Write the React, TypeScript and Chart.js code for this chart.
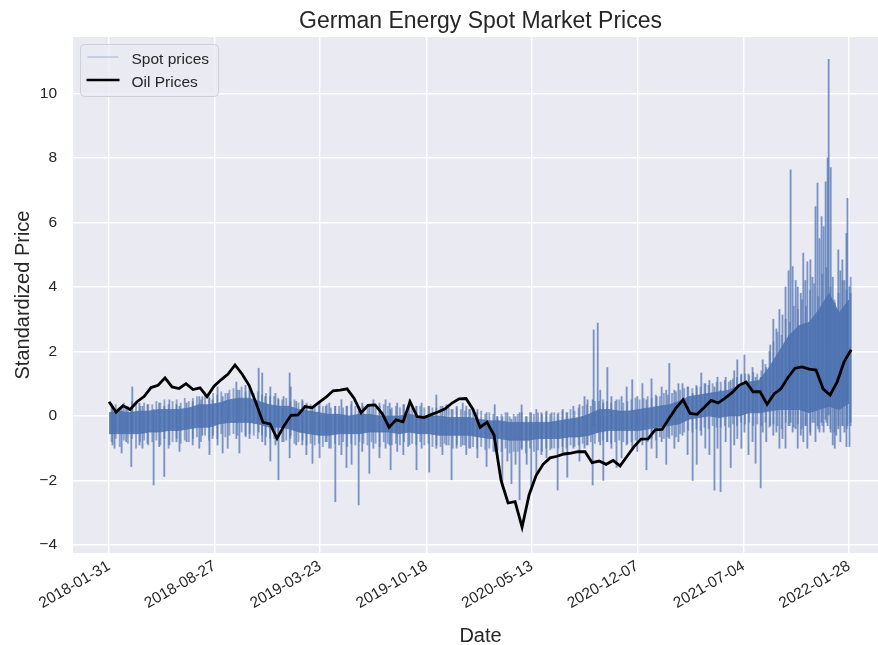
import { useEffect, useRef } from "react";
import Chart from "chart.js/auto";

// ---------- data ----------
const START_DATE = "2018-01-31";
const tickLabels = [
  "2018-01-31",
  "2018-08-27",
  "2019-03-23",
  "2019-10-18",
  "2020-05-13",
  "2020-12-07",
  "2021-07-04",
  "2022-01-28",
];
const yTicks = [-4, -2, 0, 2, 4, 6, 8, 10];

// visible axis window (days from START_DATE / standardized units)
const X_MIN_DAY = -71;
const X_MAX_DAY = 1515;
const Y_MIN = -4.25;
const Y_MAX = 11.75;

// Oil prices, evenly sampled from day 0 to OIL_LAST_DAY
const OIL_LAST_DAY = 1462;
const oilPrices = [
  0.44, 0.12, 0.32, 0.2, 0.44, 0.6, 0.88, 0.95, 1.18, 0.9,
  0.85, 1.0, 0.82, 0.87, 0.6, 0.92, 1.12, 1.3, 1.58, 1.3,
  0.95, 0.4, -0.2, -0.25, -0.7, -0.3, 0.02, 0.03, 0.29, 0.25,
  0.42, 0.58, 0.78, 0.8, 0.84, 0.55, 0.1, 0.33, 0.34, 0.08,
  -0.35, -0.12, -0.18, 0.44, -0.02, -0.05, 0.04, 0.12, 0.22, 0.4,
  0.53, 0.54, 0.2, -0.35, -0.2, -0.6, -2.0, -2.7, -2.66, -3.45,
  -2.45, -1.85, -1.5, -1.3, -1.25, -1.18, -1.15, -1.11, -1.11, -1.45,
  -1.4, -1.5, -1.38, -1.55, -1.25, -0.95, -0.72, -0.71, -0.43, -0.42,
  -0.08, 0.25, 0.5, 0.08, 0.05, 0.26, 0.48, 0.4, 0.55, 0.72,
  0.95, 1.05, 0.75, 0.75, 0.36, 0.68, 0.85, 1.2, 1.48, 1.52,
  1.45, 1.42, 0.84, 0.65, 1.05, 1.68, 2.05,
];

// Spot prices: dense core band (upper / lower edge), evenly sampled 0..CORE_LAST_DAY
const CORE_LAST_DAY = 1458;
const spotCoreHigh = [
  0.1, 0.15, 0.1, 0.15, 0.15, 0.2, 0.2, 0.2, 0.25, 0.35,
  0.35, 0.4, 0.5, 0.55, 0.55, 0.45, 0.35, 0.3, 0.3, 0.2,
  0.15, 0.1, 0.05, 0.05, 0.0, 0.05, 0.05, 0.0, 0.0, 0.0,
  0.05, 0.0, 0.0, 0.0, -0.05, -0.05, -0.05, -0.1, -0.15, -0.15,
  -0.2, -0.2, -0.2, -0.2, -0.2, -0.15, -0.1, -0.05, 0.05, 0.2,
  0.2, 0.15, 0.15, 0.2, 0.25, 0.3, 0.35, 0.45, 0.6, 0.65,
  0.7, 0.75, 0.8, 0.95, 1.05, 1.1, 1.5, 2.0, 2.5, 2.8,
  2.9, 3.3, 3.8, 3.2, 3.6,
];
const spotCoreLow = [
  -0.55, -0.55, -0.55, -0.55, -0.5, -0.5, -0.45, -0.45, -0.4, -0.35,
  -0.35, -0.25, -0.2, -0.2, -0.2, -0.25, -0.35, -0.35, -0.4, -0.5,
  -0.55, -0.6, -0.6, -0.55, -0.55, -0.55, -0.5, -0.5, -0.5, -0.55,
  -0.5, -0.55, -0.55, -0.6, -0.6, -0.6, -0.6, -0.65, -0.7, -0.7,
  -0.75, -0.75, -0.75, -0.7, -0.7, -0.7, -0.65, -0.65, -0.6, -0.5,
  -0.45, -0.45, -0.45, -0.45, -0.4, -0.35, -0.3, -0.25, -0.1, -0.05,
  0.0, -0.05, 0.0, 0.0, 0.1, 0.1, 0.15, 0.2, 0.2, 0.2,
  0.1, 0.2, 0.3, 0.2, 0.4,
];

// Spot prices: minor hourly swings around the band, every MINOR_STEP days
const MINOR_FIRST_DAY = 4;
const MINOR_STEP = 8;
const minorLow = [
  -0.8, -0.7, -0.95, -0.75, -0.85, -0.7, -1.0, -0.8, -0.75, -0.9,
  -0.8, -0.75, -0.9, -0.7, -1.0, -0.8, -0.7, -0.85, -0.75, -0.8,
  -0.7, -0.65, -0.8, -0.6, -0.75, -0.6, -0.7, -0.55, -0.65, -0.6,
  -0.55, -0.6, -0.5, -0.65, -0.55, -0.6, -0.7, -0.6, -0.65, -0.7,
  -0.7, -0.65, -0.8, -0.75, -0.7, -0.85, -0.8, -0.75, -0.9, -0.85,
  -0.9, -0.85, -0.95, -0.8, -1.0, -0.85, -0.9, -0.8, -0.95, -0.85,
  -0.9, -0.8, -0.85, -0.9, -0.8, -0.85, -0.95, -0.8, -0.85, -0.9,
  -0.85, -0.9, -0.8, -0.95, -0.85, -0.9, -0.8, -0.9, -0.85, -0.95,
  -0.9, -0.95, -0.85, -0.9, -1.0, -0.9, -0.95, -0.9, -1.0, -0.95,
  -1.0, -0.95, -1.05, -1.0, -1.1, -1.05, -1.1, -1.0, -1.15, -1.1,
  -1.1, -1.05, -1.15, -1.0, -1.1, -1.05, -1.1, -1.0, -1.05, -1.0,
  -1.0, -0.95, -1.0, -0.9, -0.95, -0.9, -0.85, -0.9, -0.8, -0.85,
  -0.8, -0.75, -0.8, -0.85, -0.8, -0.75, -0.8, -0.85, -0.8, -0.75,
  -0.75, -0.7, -0.8, -0.7, -0.75, -0.65, -0.7, -0.65, -0.6, -0.65,
  -0.55, -0.5, -0.45, -0.5, -0.4, -0.45, -0.35, -0.4, -0.3, -0.35,
  -0.35, -0.3, -0.35, -0.25, -0.3, -0.2, -0.25, -0.2, -0.3, -0.25,
  -0.3, -0.2, -0.35, -0.25, -0.3, -0.4, -0.2, -0.3, -0.35, -0.25,
  -0.4, -0.3, -0.5, -0.2, -0.4, -0.3, -0.2, -0.4, -0.5, -0.3,
  -0.3, -0.4, -0.2,
];
const minorHigh = [
  0.3, 0.35, 0.25, 0.4, 0.3, 0.45, 0.35, 0.3, 0.4, 0.35,
  0.35, 0.45, 0.4, 0.5, 0.35, 0.45, 0.5, 0.4, 0.55, 0.45,
  0.55, 0.6, 0.5, 0.65, 0.6, 0.7, 0.65, 0.75, 0.7, 0.8,
  0.85, 0.8, 0.9, 0.75, 0.8, 0.7, 0.75, 0.65, 0.7, 0.6,
  0.6, 0.55, 0.5, 0.55, 0.45, 0.5, 0.4, 0.45, 0.4, 0.35,
  0.35, 0.3, 0.3, 0.35, 0.25, 0.3, 0.3, 0.25, 0.3, 0.35,
  0.3, 0.25, 0.3, 0.35, 0.3, 0.25, 0.3, 0.35, 0.3, 0.25,
  0.3, 0.25, 0.35, 0.3, 0.25, 0.3, 0.3, 0.25, 0.3, 0.25,
  0.25, 0.3, 0.2, 0.25, 0.2, 0.25, 0.2, 0.15, 0.2, 0.15,
  0.1, 0.15, 0.05, 0.1, 0.05, 0.0, 0.05, 0.1, 0.0, 0.05,
  0.05, 0.1, 0.0, 0.1, 0.05, 0.1, 0.05, 0.1, 0.05, 0.1,
  0.1, 0.15, 0.1, 0.2, 0.15, 0.25, 0.3, 0.35, 0.3, 0.45,
  0.45, 0.5, 0.45, 0.4, 0.45, 0.5, 0.4, 0.45, 0.5, 0.55,
  0.5, 0.55, 0.6, 0.55, 0.65, 0.6, 0.7, 0.65, 0.7, 0.75,
  0.8, 0.85, 0.9, 0.85, 0.95, 0.9, 1.0, 0.95, 1.0, 1.05,
  1.05, 1.1, 1.05, 1.15, 1.2, 1.25, 1.3, 1.25, 1.35, 1.3,
  1.4, 1.6, 2.0, 2.3, 2.6, 2.5, 3.0, 2.9, 3.4, 3.3,
  3.6, 3.4, 3.9, 4.1, 3.7, 4.4, 4.6, 4.0, 3.6, 3.8,
  4.2, 3.9, 4.3,
];

// Spot prices: large individual swings (day, low, high)
const spikeDays = [
  8, 12, 26, 35, 45, 47, 61, 67, 77, 89,
  100, 110, 120, 134, 140, 154, 166, 179, 185, 199,
  205, 215, 225, 235, 252, 258, 270, 278, 296, 303,
  309, 319, 329, 335, 345, 357, 359, 370, 382, 390,
  402, 416, 428, 435, 447, 459, 469, 479, 493, 500,
  514, 522, 534, 546, 554, 556, 569, 581, 593, 607,
  617, 632, 646, 658, 666, 676, 686, 698, 705, 713,
  727, 745, 761, 766, 776, 786, 794, 802, 810, 814,
  824, 833, 843, 853, 863, 873, 885, 895, 904, 916,
  928, 938, 944, 954, 956, 964, 969, 975, 983, 991,
  1001, 1011, 1021, 1032, 1042, 1052, 1060, 1070, 1080, 1090,
  1099, 1105, 1115, 1123, 1131, 1141, 1151, 1159, 1168, 1176,
  1184, 1194, 1200, 1206, 1216, 1226, 1233, 1239, 1247, 1253,
  1261, 1269, 1275, 1285, 1289, 1296, 1304, 1310, 1316, 1322,
  1328, 1334, 1340, 1344, 1348, 1354, 1358, 1364, 1369, 1373,
  1377, 1383, 1387, 1393, 1397, 1401, 1405, 1409, 1413, 1417,
  1419, 1423, 1427, 1431, 1434, 1438, 1442, 1446, 1450, 1454,
  1456, 1460, 1462,
];
const spikeLow = [
  -0.9, -1.0, -1.15, -0.8, -1.57, -0.5, -0.9, -1.0, -0.85, -2.14,
  -0.95, -1.88, -0.9, -0.8, -1.1, -0.8, -0.9, -1.0, -0.6, -1.2,
  -0.7, -0.9, -1.15, -1.0, -0.7, -1.15, -0.6, -0.7, -0.5, -0.8,
  -0.9, -1.4, -0.9, -1.98, -0.8, -1.3, -0.6, -0.9, -0.9, -1.2,
  -1.47, -1.3, -0.8, -1.0, -2.66, -1.2, -1.6, -1.5, -2.76, -1.1,
  -1.78, -1.0, -1.3, -1.0, -0.9, -1.67, -1.1, -1.2, -0.9, -1.67,
  -1.0, -1.74, -1.0, -1.2, -0.9, -1.98, -1.0, -0.9, -1.2, -1.0,
  -1.3, -1.57, -1.1, -1.3, -2.2, -1.4, -2.1, -1.5, -2.6, -1.0,
  -1.5, -2.2, -1.8, -1.2, -1.3, -1.0, -2.3, -1.2, -1.9, -1.0,
  -1.4, -1.0, -0.9, -2.14, -0.3, -0.5, -0.9, -2.0, -0.8, -1.0,
  -1.6, -1.3, -0.9, -1.0, -1.1, -0.9, -1.67, -1.0, -1.3, -0.8,
  -1.5, -0.7, -1.0, -0.8, -0.6, -1.2, -2.0, -1.5, -0.6, -1.0,
  -1.2, -2.3, -1.0, -2.35, -0.8, -1.6, -0.9, -0.7, -1.0, -0.5,
  -1.2, -0.8, -1.47, -2.23, -0.5, -0.8, -0.3, -0.6, -0.5, -1.0,
  -0.7, -1.0, -0.3, -0.2, -0.5, -0.4, -1.0, -0.6, -0.8, -0.3,
  -1.0, -0.6, -0.2, -0.8, -0.3, -0.5, -0.2, -0.5, -0.1, -0.3,
  0.0, -0.5, -0.9, -1.0, -0.6, -0.4, -0.8, -0.3, -0.5, -0.95,
  -0.3, -0.95, -0.3,
];
const spikeHigh = [
  0.3, 0.2, 0.25, 0.3, 0.2, 0.9, 0.4, 0.3, 0.35, 0.2,
  0.4, 0.3, 0.5, 0.35, 0.3, 0.4, 0.45, 0.6, 0.6, 0.55,
  0.5, 0.9, 0.6, 0.7, 1.05, 0.8, 0.95, 0.85, 1.48, 1.33,
  0.6, 0.9, 0.7, 0.5, 0.6, 1.33, 0.9, 0.45, 0.5, 0.35,
  0.3, 0.4, 0.3, 0.4, 0.3, 0.5, 0.3, 0.45, 0.3, 0.4,
  0.3, 0.5, 0.4, 0.5, 0.4, 0.2, 0.4, 0.35, 0.5, 0.3,
  0.4, 0.3, 0.65, 0.3, 0.35, 0.2, 0.3, 0.4, 0.3, 0.2,
  0.2, 0.1, 0.35, 0.0, 0.0, 0.1, -0.1, 0.0, 0.1, 0.34,
  0.0, 0.1, 0.2, 0.1, 0.15, 0.1, 0.05, 0.2, 0.1, 0.3,
  0.35, 0.6, 0.5, 0.5, 2.67, 2.88, 0.8, 0.4, 1.5, 0.6,
  0.5, 0.6, 0.9, 1.12, 0.6, 1.0, 0.5, 1.15, 0.6, 0.9,
  0.8, 1.63, 0.8, 1.0, 1.0, 0.9, 0.7, 0.9, 1.33, 1.0,
  1.1, 0.9, 1.2, 0.8, 1.2, 1.1, 1.4, 1.74, 1.3, 1.89,
  1.3, 1.5, 1.2, 1.2, 1.74, 1.5, 2.2, 3.0, 2.7, 3.3,
  3.13, 4.0, 4.5, 7.63, 4.63, 4.2, 4.0, 3.8, 5.05, 4.2,
  4.78, 4.84, 4.3, 6.49, 7.22, 5.5, 6.18, 5.87, 7.26, 8.0,
  11.06, 7.7, 4.3, 3.5, 3.3, 5.15, 4.5, 4.84, 4.2, 5.66,
  6.75, 4.0, 3.8,
];

// ---------- helpers ----------
const DAY_MS = 86400000;
const dayOf = (s: string) => (Date.parse(s) - Date.parse(START_DATE)) / DAY_MS;
const tickDays = tickLabels.map(dayOf);
const spread = (vals: number[], lastDay: number) =>
  vals.map((v, i) => ({ x: (i * lastDay) / (vals.length - 1), y: v }));
const fmt = (v: number) => (v < 0 ? "\u2212" + Math.abs(v) : String(v));

const FONT = "'Liberation Sans', Arial, Helvetica, sans-serif";
const TEXT = "#262626";
const BLUE = "76,114,176";

const bgPlugin = {
  id: "bg",
  beforeDraw(chart: any) {
    const { ctx, chartArea: a } = chart;
    ctx.save();
    ctx.fillStyle = "#ffffff";
    ctx.fillRect(0, 0, chart.width, chart.height);
    ctx.fillStyle = "#EAEAF2";
    ctx.fillRect(a.left, a.top, a.right - a.left, a.bottom - a.top);
    ctx.restore();
  },
};

const textPlugin = {
  id: "texts",
  afterDraw(chart: any) {
    const { ctx, chartArea: a } = chart;
    const cx = (a.left + a.right) / 2 + 5;
    ctx.save();
    ctx.fillStyle = TEXT;
    ctx.textAlign = "center";
    ctx.textBaseline = "alphabetic";
    ctx.font = `23px ${FONT}`;
    ctx.fillText("German Energy Spot Market Prices", cx, 28);
    ctx.font = `20px ${FONT}`;
    ctx.fillText("Date", cx, 642);
    ctx.save();
    ctx.translate(29, (a.top + a.bottom) / 2);
    ctx.rotate(-Math.PI / 2);
    ctx.fillText("Standardized Price", 0, 0);
    ctx.restore();

    // legend
    const lx = a.left + 7.5;
    const ly = a.top + 7.5;
    const w = 138;
    const h = 52;
    ctx.beginPath();
    ctx.roundRect(lx, ly, w, h, 4);
    ctx.fillStyle = "rgba(234,234,242,0.8)";
    ctx.fill();
    ctx.strokeStyle = "#cfcfd6";
    ctx.lineWidth = 1;
    ctx.stroke();

    ctx.beginPath();
    ctx.moveTo(lx + 7, ly + 12.5);
    ctx.lineTo(lx + 38, ly + 12.5);
    ctx.strokeStyle = `rgba(${BLUE},0.3)`;
    ctx.lineWidth = 1.5;
    ctx.stroke();

    ctx.beginPath();
    ctx.moveTo(lx + 6, ly + 35.5);
    ctx.lineTo(lx + 39, ly + 35.5);
    ctx.strokeStyle = "#000";
    ctx.lineWidth = 2.6;
    ctx.stroke();

    ctx.fillStyle = TEXT;
    ctx.textAlign = "left";
    ctx.font = `15.5px ${FONT}`;
    ctx.fillText("Spot prices", lx + 51, ly + 19);
    ctx.fillText("Oil Prices", lx + 51, ly + 42);
    ctx.restore();
  },
};

export default function App() {
  const ref = useRef<HTMLCanvasElement | null>(null);

  useEffect(() => {
    if (!ref.current) return;
    const gridOpts = { color: "#ffffff", lineWidth: 1.4, drawTicks: false, offset: false };
    const chart = new Chart(ref.current, {
      type: "line",
      data: {
        datasets: [
          {
            label: "Oil Prices",
            data: spread(oilPrices, OIL_LAST_DAY),
            borderColor: "#000000",
            borderWidth: 2.8,
            pointRadius: 0,
            tension: 0,
            fill: false,
            order: 0,
          } as any,
          {
            type: "bar",
            label: "Spot prices (large swings)",
            data: spikeDays.map((d, i) => ({ x: d, y: [spikeLow[i], spikeHigh[i]] })),
            backgroundColor: `rgba(${BLUE},0.72)`,
            borderWidth: 0,
            barThickness: 1.2,
            order: 1,
          } as any,
          {
            type: "bar",
            label: "Spot prices (minor swings)",
            data: minorLow.map((lo, i) => ({
              x: MINOR_FIRST_DAY + i * MINOR_STEP,
              y: [lo, minorHigh[i]],
            })),
            backgroundColor: `rgba(${BLUE},0.6)`,
            borderWidth: 0,
            barThickness: 1.2,
            order: 2,
          } as any,
          {
            label: "Spot prices",
            data: spread(spotCoreHigh, CORE_LAST_DAY),
            borderColor: `rgba(${BLUE},0.7)`,
            borderWidth: 1,
            pointRadius: 0,
            tension: 0,
            fill: "+1",
            backgroundColor: `rgba(${BLUE},0.88)`,
            order: 3,
          } as any,
          {
            label: "Spot low",
            data: spread(spotCoreLow, CORE_LAST_DAY),
            borderColor: `rgba(${BLUE},0.7)`,
            borderWidth: 1,
            pointRadius: 0,
            tension: 0,
            fill: false,
            order: 4,
          } as any,
        ],
      },
      options: {
        responsive: false,
        maintainAspectRatio: false,
        animation: false,
        events: [],
        layout: { padding: { top: 37, left: 0, right: 0, bottom: 0 } },
        plugins: {
          legend: { display: false },
          title: { display: false },
          tooltip: { enabled: false },
        },
        scales: {
          x: {
            type: "linear",
            min: X_MIN_DAY,
            max: X_MAX_DAY,
            offset: false,
            afterBuildTicks: (s: any) => {
              s.ticks = tickDays.map((v) => ({ value: v }));
            },
            afterFit: (s: any) => {
              s.height = 92;
            },
            grid: gridOpts,
            border: { display: false },
            ticks: {
              autoSkip: false,
              maxRotation: 30,
              minRotation: 30,
              padding: 4,
              color: TEXT,
              font: { family: FONT, size: 15.5 },
              callback: (_v: any, i: number) => tickLabels[i],
            },
          },
          y: {
            type: "linear",
            min: Y_MIN,
            max: Y_MAX,
            afterBuildTicks: (s: any) => {
              s.ticks = yTicks.map((v) => ({ value: v }));
            },
            afterFit: (s: any) => {
              s.width = 73;
            },
            grid: gridOpts,
            border: { display: false },
            ticks: {
              padding: 16,
              color: TEXT,
              font: { family: FONT, size: 15.5 },
              callback: (v: any) => fmt(Number(v)),
            },
          },
        },
      } as any,
      plugins: [bgPlugin, textPlugin],
    });
    return () => chart.destroy();
  }, []);

  return (
    <div style={{ position: "fixed", left: 0, top: 0, width: 878, height: 645, background: "#fff" }}>
      <canvas ref={ref} width={878} height={645} style={{ display: "block", width: 878, height: 645 }} />
    </div>
  );
}
